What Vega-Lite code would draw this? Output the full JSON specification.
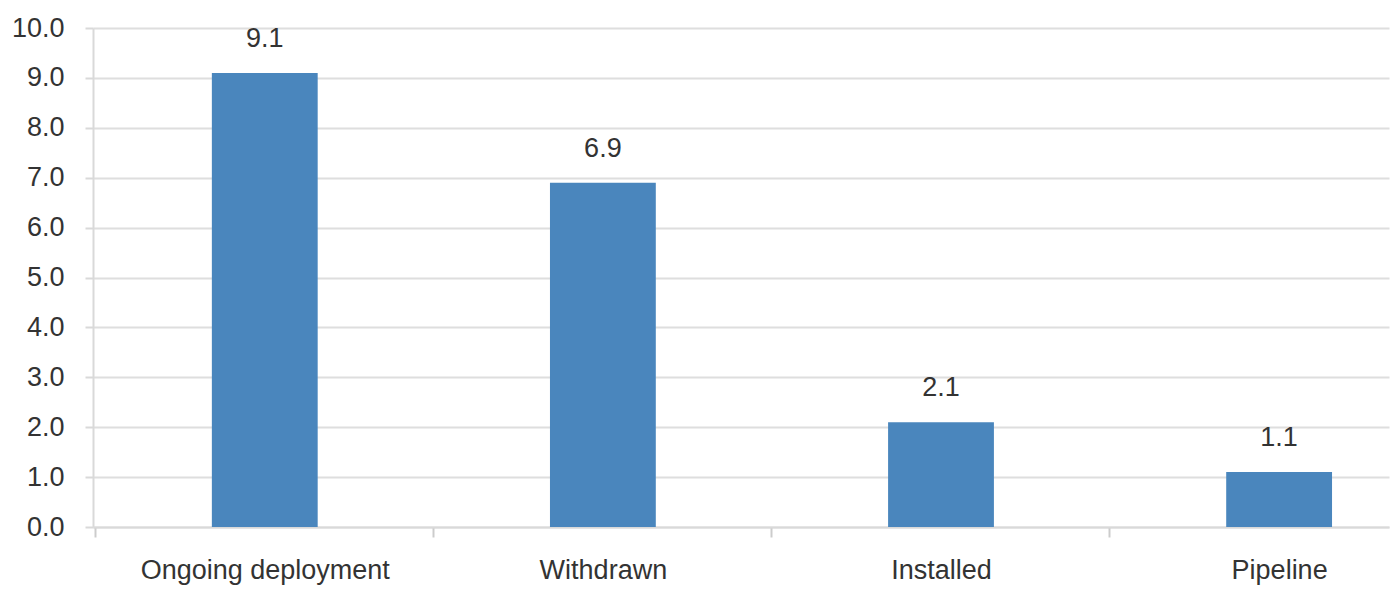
{
  "$schema": "https://vega.github.io/schema/vega-lite/v6.json",
  "autosize": "none",
  "width": 1296,
  "height": 499,
  "padding": {"left": 93, "top": 28, "right": 8, "bottom": 65},
  "background": "white",
  "config": {
    "view": {"stroke": null},
    "font": "Liberation Sans"
  },
  "data": {
    "values": [
      {"status": "Ongoing deployment", "value": 9.1},
      {"status": "Withdrawn", "value": 6.9},
      {"status": "Installed", "value": 2.1},
      {"status": "Pipeline", "value": 1.1}
    ]
  },
  "encoding": {
    "x": {
      "field": "status",
      "type": "nominal",
      "sort": null,
      "scale": {"paddingInner": 0.687, "paddingOuter": 0.26, "align": 0.676},
      "axis": {
        "title": null,
        "labelAngle": 0,
        "labelFontSize": 27,
        "labelColor": "#333333",
        "labelPadding": 20,
        "labelLimit": 0,
        "bandPosition": 0,
        "tickExtra": false,
        "tickOffset": -117,
        "labelOffset": 117,
        "tickColor": "#cccccc",
        "tickWidth": 2,
        "tickSize": 10,
        "domainColor": "#d9d9d9",
        "domainWidth": 2,
        "grid": false
      }
    },
    "y": {
      "field": "value",
      "type": "quantitative",
      "scale": {"domain": [0, 10], "nice": false},
      "axis": {
        "title": null,
        "values": [0, 1, 2, 3, 4, 5, 6, 7, 8, 9, 10],
        "format": ".1f",
        "labelFontSize": 27,
        "labelColor": "#333333",
        "labelPadding": 21,
        "tickSize": 8,
        "tickColor": "#d9d9d9",
        "tickWidth": 2,
        "gridColor": "#dedede",
        "gridWidth": 2,
        "domainColor": "#d9d9d9",
        "domainWidth": 2
      }
    }
  },
  "layer": [
    {"mark": {"type": "bar", "color": "#4a86bd"}},
    {
      "mark": {"type": "text", "baseline": "alphabetic", "dy": -26, "fontSize": 27, "color": "#333333"},
      "encoding": {"text": {"field": "value", "type": "quantitative", "format": ".1f"}}
    }
  ]
}
